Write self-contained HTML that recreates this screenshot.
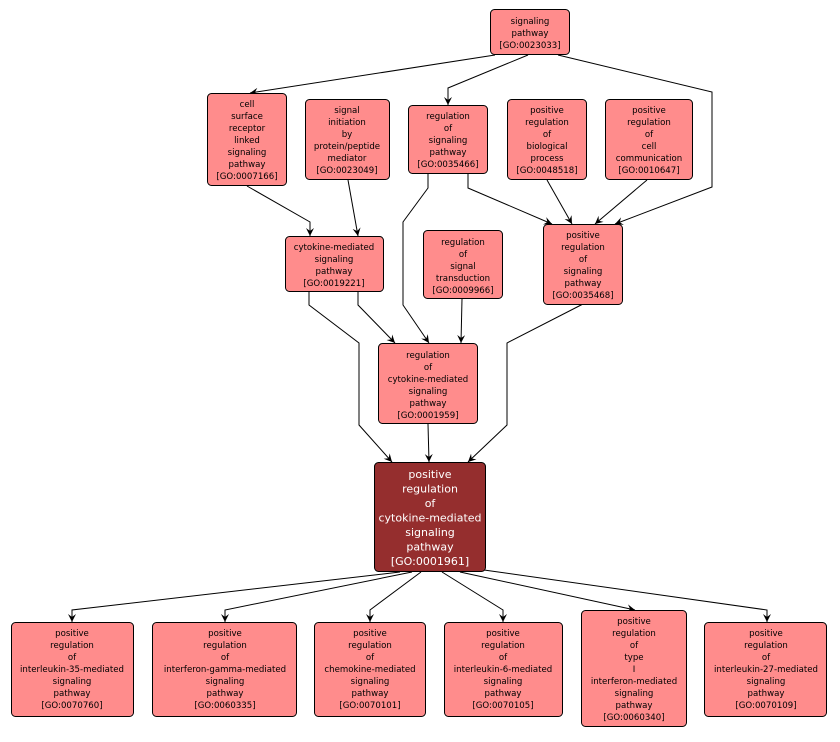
<!DOCTYPE html>
<html><head><meta charset="utf-8"><style>
html,body{margin:0;padding:0;background:#fff;}
svg text{font-family:"DejaVu Sans","Liberation Sans",sans-serif;font-size:8.6px;fill:#000;text-anchor:middle;}
svg .w{fill:#fff;font-size:11px;}
</style></head><body>
<svg width="840" height="737" viewBox="0 0 840 737" xmlns="http://www.w3.org/2000/svg">
<defs><marker id="a" markerWidth="10" markerHeight="10" refX="8" refY="4" orient="auto" markerUnits="userSpaceOnUse"><path d="M0,0 L8,4 L0,8 L3,4 z" fill="#000"/></marker></defs>
<g fill="none" stroke="#000" stroke-width="1" marker-end="url(#a)">
<polyline points="495,55 250,93"/>
<polyline points="528,55 448,88 448,105"/>
<polyline points="558,55 712,92 712,187 615,224"/>
<polyline points="247,186 310,222 310,236"/>
<polyline points="348,180 358,236"/>
<polyline points="428,174 428,188 403,222 403,305 429,343"/>
<polyline points="468,174 468,188 552,224"/>
<polyline points="547,180 572,224"/>
<polyline points="647,180 595,224"/>
<polyline points="309,292 309,305 359,343 359,425 392,462"/>
<polyline points="358,292 358,305 395,343"/>
<polyline points="462,299 461,343"/>
<polyline points="583,304 507,343 507,425 468,462"/>
<polyline points="428,424 429,462"/>
<polyline points="400,572 72,610 72,622"/>
<polyline points="412,572 225,610 225,622"/>
<polyline points="421,572 370,610 370,622"/>
<polyline points="442,572 503,610 503,622"/>
<polyline points="460,572 635,610"/>
<polyline points="484,570 767,610 767,622"/>
</g>
<g fill="#ff8c8c" stroke="#000" stroke-width="1">
<rect x="490.5" y="9.5" width="79" height="45" rx="4"/>
<rect x="207.5" y="93.5" width="79" height="92" rx="4"/>
<rect x="305.5" y="99.5" width="84" height="80" rx="4"/>
<rect x="408.5" y="105.5" width="79" height="68" rx="4"/>
<rect x="507.5" y="99.5" width="79" height="80" rx="4"/>
<rect x="605.5" y="99.5" width="87" height="80" rx="4"/>
<rect x="285.5" y="236.5" width="98" height="55" rx="4"/>
<rect x="423.5" y="230.5" width="79" height="68" rx="4"/>
<rect x="543.5" y="224.5" width="79" height="80" rx="4"/>
<rect x="378.5" y="343.5" width="99" height="80" rx="4"/>
<rect x="11.5" y="622.5" width="122" height="94" rx="4"/>
<rect x="152.5" y="622.5" width="144" height="94" rx="4"/>
<rect x="314.5" y="622.5" width="111" height="94" rx="4"/>
<rect x="444.5" y="622.5" width="118" height="94" rx="4"/>
<rect x="581.5" y="610.5" width="105" height="116" rx="4"/>
<rect x="704.5" y="622.5" width="122" height="94" rx="4"/>
</g>
<rect x="374.5" y="462.5" width="111" height="109" rx="4" fill="#952e2e" stroke="#000"/>
<text x="530" y="24">signaling</text><text x="530" y="36">pathway</text><text x="530" y="48">[GO:0023033]</text>
<text x="247" y="107">cell</text><text x="247" y="119">surface</text><text x="247" y="131">receptor</text><text x="247" y="143">linked</text><text x="247" y="155">signaling</text><text x="247" y="167">pathway</text><text x="247" y="179">[GO:0007166]</text>
<text x="347" y="113">signal</text><text x="347" y="125">initiation</text><text x="347" y="137">by</text><text x="347" y="149">protein/peptide</text><text x="347" y="161">mediator</text><text x="347" y="173">[GO:0023049]</text>
<text x="448" y="119">regulation</text><text x="448" y="131">of</text><text x="448" y="143">signaling</text><text x="448" y="155">pathway</text><text x="448" y="167">[GO:0035466]</text>
<text x="547" y="113">positive</text><text x="547" y="125">regulation</text><text x="547" y="137">of</text><text x="547" y="149">biological</text><text x="547" y="161">process</text><text x="547" y="173">[GO:0048518]</text>
<text x="649" y="113">positive</text><text x="649" y="125">regulation</text><text x="649" y="137">of</text><text x="649" y="149">cell</text><text x="649" y="161">communication</text><text x="649" y="173">[GO:0010647]</text>
<text x="334" y="250">cytokine-mediated</text><text x="334" y="262">signaling</text><text x="334" y="274">pathway</text><text x="334" y="286">[GO:0019221]</text>
<text x="463" y="245">regulation</text><text x="463" y="257">of</text><text x="463" y="269">signal</text><text x="463" y="281">transduction</text><text x="463" y="293">[GO:0009966]</text>
<text x="583" y="238">positive</text><text x="583" y="250">regulation</text><text x="583" y="262">of</text><text x="583" y="274">signaling</text><text x="583" y="286">pathway</text><text x="583" y="298">[GO:0035468]</text>
<text x="428" y="358">regulation</text><text x="428" y="370">of</text><text x="428" y="382">cytokine-mediated</text><text x="428" y="394">signaling</text><text x="428" y="406">pathway</text><text x="428" y="418">[GO:0001959]</text>
<text class="w" x="430" y="478">positive</text><text class="w" x="430" y="492.5">regulation</text><text class="w" x="430" y="507">of</text><text class="w" x="430" y="521.5">cytokine-mediated</text><text class="w" x="430" y="536">signaling</text><text class="w" x="430" y="550.5">pathway</text><text class="w" x="430" y="565">[GO:0001961]</text>
<g>
<text x="72" y="636">positive</text><text x="72" y="648">regulation</text><text x="72" y="660">of</text><text x="72" y="672">interleukin-35-mediated</text><text x="72" y="684">signaling</text><text x="72" y="696">pathway</text><text x="72" y="708">[GO:0070760]</text>
<text x="225" y="636">positive</text><text x="225" y="648">regulation</text><text x="225" y="660">of</text><text x="225" y="672">interferon-gamma-mediated</text><text x="225" y="684">signaling</text><text x="225" y="696">pathway</text><text x="225" y="708">[GO:0060335]</text>
<text x="370" y="636">positive</text><text x="370" y="648">regulation</text><text x="370" y="660">of</text><text x="370" y="672">chemokine-mediated</text><text x="370" y="684">signaling</text><text x="370" y="696">pathway</text><text x="370" y="708">[GO:0070101]</text>
<text x="503" y="636">positive</text><text x="503" y="648">regulation</text><text x="503" y="660">of</text><text x="503" y="672">interleukin-6-mediated</text><text x="503" y="684">signaling</text><text x="503" y="696">pathway</text><text x="503" y="708">[GO:0070105]</text>
<text x="634" y="624">positive</text><text x="634" y="636">regulation</text><text x="634" y="648">of</text><text x="634" y="660">type</text><text x="634" y="672">I</text><text x="634" y="684">interferon-mediated</text><text x="634" y="696">signaling</text><text x="634" y="708">pathway</text><text x="634" y="720">[GO:0060340]</text>
<text x="766" y="636">positive</text><text x="766" y="648">regulation</text><text x="766" y="660">of</text><text x="766" y="672">interleukin-27-mediated</text><text x="766" y="684">signaling</text><text x="766" y="696">pathway</text><text x="766" y="708">[GO:0070109]</text>
</g>
</svg>
</body></html>
